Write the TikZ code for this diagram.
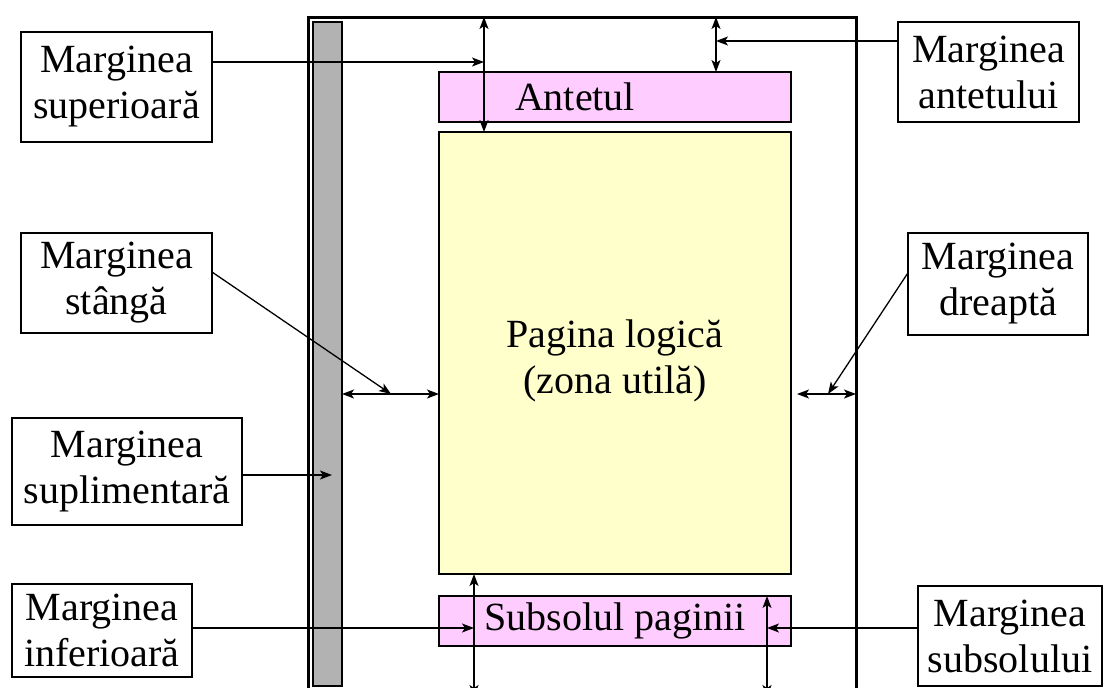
\documentclass[tikz,border=0pt]{standalone}
\usepackage{fontspec}
\setmainfont{Liberation Serif}
\usetikzlibrary{arrows.meta,calc}

\definecolor{headpink}{RGB}{255,204,255}
\definecolor{bodyyellow}{RGB}{255,255,204}
\definecolor{gutter}{RGB}{178,178,178}

\begin{document}
\begin{tikzpicture}[x=1pt,y=-1pt,
  >={Stealth[length=12pt,width=9pt,inset=3pt]},
  txt/.style={font=\fontsize{40}{46}\selectfont,align=center,inner sep=0pt},
  lbl/.style={txt,draw,line width=1.2pt,fill=white,anchor=north west,outer sep=0pt},
  zone/.style={draw,line width=1.2pt,anchor=north west,outer sep=0pt,inner sep=0pt},
  arr/.style={->,line width=1.3pt},
  darr/.style={<->,line width=1.3pt},
  frame/.style={line width=3pt}
]
\useasboundingbox (0,0) rectangle (1104,688);
\clip (0,0) rectangle (1104,688);

% physical page, open at the bottom
\node[anchor=north west,minimum width=548pt,minimum height=700pt,inner sep=0pt,outer sep=0pt] (page) at (308,17) {};
\draw[frame] (page.south west) -- (page.north west) -- (page.north east) -- (page.south east);

% binding gutter
\node[zone,fill=gutter,minimum width=29pt,minimum height=664pt] (strip) at (313,22) {};

% header, text area, footer
\node[zone,fill=headpink,minimum width=352pt,minimum height=50pt] (antet) at (439,72) {};
\node[txt] (antetText) at ([xshift=-40pt]antet.center) {Antetul};
\node[zone,fill=bodyyellow,minimum width=352pt,minimum height=442pt] (body) at (439,132) {};
\node[txt] (bodyText) at ([yshift=-8pt]body.center) {Pagina logică\\(zona utilă)};
\node[zone,fill=headpink,minimum width=352pt,minimum height=50pt] (subsol) at (439,596) {};
\node[txt] (subsolText) at (subsol.center) {Subsolul paginii};

% labels
\node[lbl,minimum width=191pt,minimum height=110pt] (sup) at (21,32) {Marginea\\superioară};
\node[lbl,minimum width=181pt,minimum height=100pt] (ant) at (898,22) {Marginea\\antetului};
\node[lbl,minimum width=191pt,minimum height=100pt] (stg) at (21,233) {Marginea\\stângă};
\node[lbl,minimum width=180pt,minimum height=102pt] (dr) at (908,233) {Marginea\\dreaptă};
\node[lbl,minimum width=230pt,minimum height=107pt] (supl) at (12,418) {Marginea\\suplimentară};
\node[lbl,minimum width=180pt,minimum height=93pt] (inf) at (12,584) {Marginea\\inferioară};
\node[lbl,minimum width=184pt,minimum height=100pt] (subs) at (918,586) {Marginea\\subsolului};

% arrow end points
\coordinate (supTip) at (484,62);
\coordinate (antTip) at (716,41);
\coordinate (stgTip) at (391,394);
\coordinate (drTip) at (828,394);
\coordinate (suplTip) at (332,475);
\coordinate (infTip) at (474,628);
\coordinate (subsTip) at (767,628);
\coordinate (pageBottomL) at (474,697);
\coordinate (pageBottomR) at (767,697);

% top margin
\draw[darr] (page.north -| supTip) -- (body.north -| supTip);
\draw[arr] (sup.east |- supTip) -- (supTip);
% header margin
\draw[darr] (page.north -| antTip) -- (antet.north -| antTip);
\draw[arr] (ant.west |- antTip) -- (antTip);
% left margin
\draw[darr] (strip.east |- stgTip) -- (body.west |- stgTip);
\draw[arr] ($(stg.north east)!0.39!(stg.south east)$) -- (stgTip);
% right margin
\draw[darr] ([xshift=6pt]body.east |- drTip) -- (page.east |- drTip);
\draw[arr] ($(dr.north west)!0.39!(dr.south west)$) -- (drTip);
% gutter
\draw[arr] (supl.east |- suplTip) -- (suplTip);
% bottom margin
\draw[darr] (body.south -| infTip) -- (pageBottomL);
\draw[arr] (inf.east |- infTip) -- (infTip);
% footer margin
\draw[darr] (subsol.north -| subsTip) -- (pageBottomR);
\draw[arr] (subs.west |- subsTip) -- (subsTip);
\end{tikzpicture}
\end{document}
